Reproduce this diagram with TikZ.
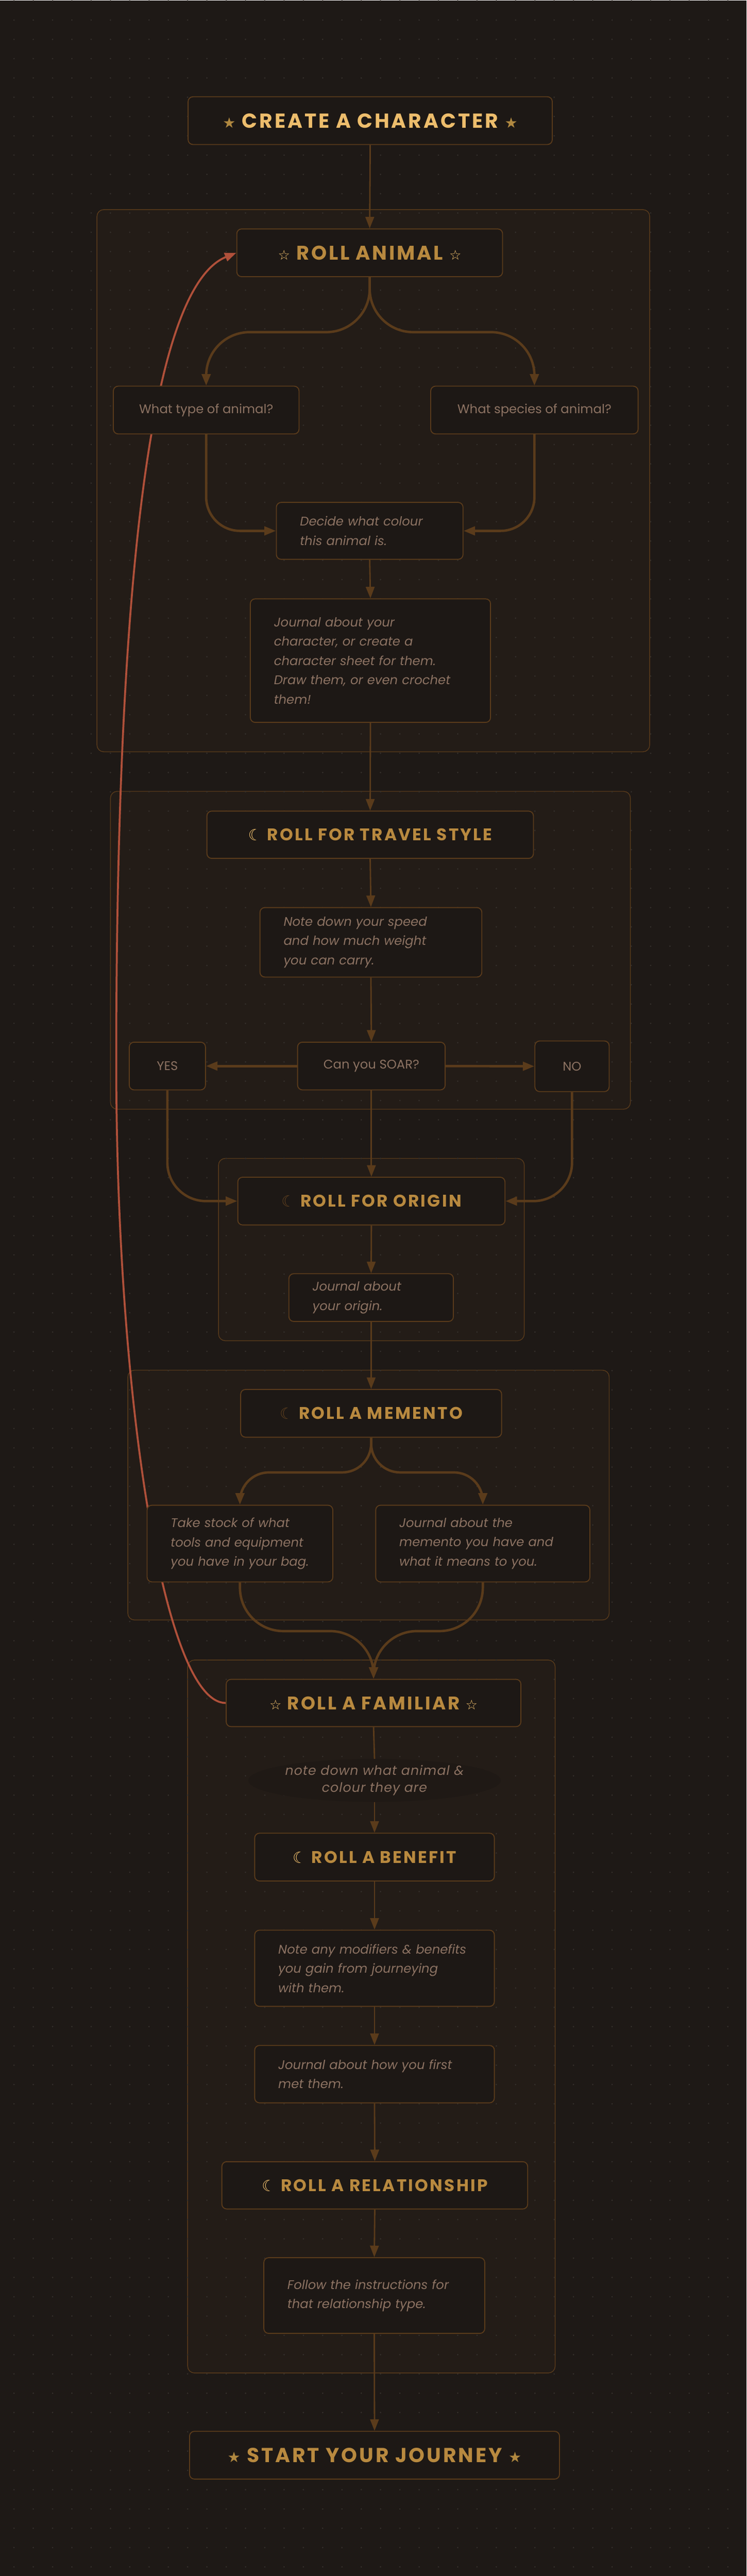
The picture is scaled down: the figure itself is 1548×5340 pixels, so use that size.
\documentclass[tikz,border=0pt]{standalone}
\usepackage{xcolor}
\usepackage{fontspec}
\setmainfont{Poppins}
\newfontfamily\headfont[LetterSpace=10]{Poppins}
\newfontfamily\softfont[LetterSpace=4]{Poppins}
\newfontfamily\symfont{DejaVu Sans}
\usepackage{tikz}
\usetikzlibrary{arrows.meta,shapes.geometric}
\pgfdeclarelayer{back}
\pgfsetlayers{back,main}

\definecolor{bgc}{HTML}{1E1916}
\definecolor{grpfill}{HTML}{231C17}
\definecolor{boxfill}{HTML}{1D1815}
\definecolor{ovalfill}{HTML}{1F1915}
\definecolor{edgec}{HTML}{5A3B1B}
\definecolor{dotc}{HTML}{36312D}
\definecolor{goldc}{HTML}{B8893F}
\definecolor{brightc}{HTML}{EDBD6C}
\definecolor{bodyc}{HTML}{8C7262}
\definecolor{redc}{HTML}{B0503A}
\definecolor{dimmoon}{HTML}{5C3E1E}
\definecolor{starc}{HTML}{B08840}

\newcommand{\fstar}{{\symfont\fontsize{30}{30}\selectfont\color{starc}★}}
\newcommand{\ostar}{{\symfont\fontsize{28}{28}\selectfont\color{brightc}☆}}
\newcommand{\bmoon}{{\symfont\fontsize{32}{32}\selectfont\color{brightc}☾}}
\newcommand{\dmoon}{{\symfont\fontsize{32}{32}\selectfont\color{dimmoon}☾}}

\begin{document}
\begin{tikzpicture}[x=1pt,y=-1pt,
    headbox/.style={draw=edgec,line width=2pt,fill=boxfill,rounded corners=10pt,inner sep=0pt,text=goldc,font=\headfont\bfseries\fontsize{35}{40}\selectfont},
    notebox/.style={draw=edgec,line width=2pt,fill=boxfill,rounded corners=10pt,text=bodyc,font=\itshape\fontsize{26}{40}\selectfont,align=left,inner xsep=49pt,inner ysep=0pt},
    askbox/.style={draw=edgec,line width=2pt,fill=boxfill,rounded corners=10pt,inner sep=0pt,text=bodyc,font=\fontsize{26}{30}\selectfont},
    grp/.style={draw=edgec,line width=1.5pt,fill=grpfill,rounded corners=14pt},
    flow/.style={draw=edgec,line width=3pt,-{Triangle[length=24pt,width=18pt]}},
    fork/.style={flow,line width=5pt,rounded corners=90pt},
    loopback/.style={draw=redc,line width=4pt,-{Triangle[length=24pt,width=18pt]}}]
    \begin{pgfonlayer}{back}
        \fill [bgc] (0,0) rectangle (1548,5340);
        \draw [grp] (201,434) rectangle (1347,1558);
        \draw [grp] (229,1640) rectangle (1307,2299);
        \draw [grp] (453,2401) rectangle (1087,2779);
        \draw [grp] (265,2840) rectangle (1263,3358);
        \draw [grp] (389,3441) rectangle (1151,4919);
        \foreach \i in {0,...,37}
            \foreach \j in {0,...,133}
                \fill [dotc] (29+40*\i,1+40*\j) circle (1.6);
    \end{pgfonlayer}
    \useasboundingbox (0,0) rectangle (1548,5340);

    \node [headbox,text=brightc,font=\headfont\bfseries\fontsize{42}{44}\selectfont,minimum width=755pt,minimum height=99pt] (create) at (767.5,249.5) {\fstar\ CREATE A CHARACTER\ \fstar};
    \node [headbox,font=\headfont\bfseries\fontsize{41}{44}\selectfont,minimum width=551pt,minimum height=99pt] (animal) at (766.5,523.5) {\ostar\ ROLL ANIMAL\ \ostar};
    \node [askbox,minimum width=385pt,minimum height=99pt] (type) at (427.5,849.5) {What type of animal?};
    \node [askbox,minimum width=430pt,minimum height=99pt] (species) at (1108,849.5) {What species of animal?};
    \node [notebox,text width=289pt,minimum height=118pt] (colour) at (766.5,1100) {Decide what colour\\this animal is.};
    \node [notebox,text width=400pt,minimum height=256pt] (journal) at (768,1369) {Journal about your\\character, or create a\\character sheet for them.\\Draw them, or even crochet\\them!};

    \node [headbox,minimum width=677pt,minimum height=98pt] (travel) at (767.5,1730) {\bmoon\ ROLL FOR TRAVEL STYLE};
    \node [notebox,text width=362pt,minimum height=144pt] (speed) at (769,1953) {Note down your speed\\and how much weight\\you can carry.};
    \node [askbox,minimum width=306pt,minimum height=99pt] (soar) at (770,2209.5) {Can you SOAR?};
    \node [askbox,minimum width=158pt,minimum height=99pt] (yes) at (347,2209.5) {YES};
    \node [askbox,minimum width=154pt,minimum height=105pt] (no) at (1186,2210) {NO};

    \node [headbox,minimum width=554pt,minimum height=99pt] (origin) at (770,2489.5) {\dmoon\ ROLL FOR ORIGIN};
    \node [notebox,text width=243pt,minimum height=99pt] (jorigin) at (769.5,2689.5) {Journal about\\your origin.};

    \node [headbox,minimum width=541pt,minimum height=99pt] (memento) at (769.5,2929.5) {\dmoon\ ROLL A MEMENTO};
    \node [notebox,text width=287pt,minimum height=159pt] (stock) at (497.5,3199.5) {Take stock of what\\tools and equipment\\you have in your bag.};
    \node [notebox,text width=346pt,minimum height=159pt] (jmemento) at (1001,3199.5) {Journal about the\\memento you have and\\what it means to you.};

    \node [headbox,font=\headfont\bfseries\fontsize{38}{44}\selectfont,minimum width=611pt,minimum height=98pt] (familiar) at (774.5,3530) {\ostar\ ROLL A FAMILIAR\ \ostar};
    \node [ellipse,fill=ovalfill,inner sep=0pt,minimum width=457pt,minimum height=89pt,text=bodyc,align=center,font=\softfont\itshape\fontsize{27}{35}\selectfont] (fnote) at (776.5,3690.5) {note down what animal \&\\colour they are};
    \node [headbox,minimum width=497pt,minimum height=99pt] (benefit) at (776.5,3849.5) {\bmoon\ ROLL A BENEFIT};
    \node [notebox,text width=399pt,minimum height=158pt] (modifiers) at (776.5,4080) {Note any modifiers \& benefits\\you gain from journeying\\with them.};
    \node [notebox,text width=399pt,minimum height=119pt] (firstmet) at (776.5,4299.5) {Journal about how you first\\met them.};
    \node [headbox,minimum width=634pt,minimum height=98pt] (relation) at (777,4530) {\bmoon\ ROLL A RELATIONSHIP};
    \node [notebox,text width=360pt,minimum height=157pt] (follow) at (776,4758.5) {Follow the instructions for\\that relationship type.};

    \node [headbox,font=\headfont\bfseries\fontsize{42}{44}\selectfont,minimum width=767pt,minimum height=99pt] (start) at (776.5,5089.5) {\fstar\ START YOUR JOURNEY\ \fstar};

    \draw [flow] (create.south) -- (animal.north);
    \draw [fork] (animal.south) -- ++(0,114) -| (type.north);
    \draw [fork] (animal.south) -- ++(0,114) -| (species.north);
    \draw [fork,rounded corners=70pt] (type.south) |- (colour.west);
    \draw [fork,rounded corners=70pt] (species.south) |- (colour.east);
    \draw [flow] (colour.south) -- (journal.north);
    \draw [flow] (journal.south) -- (travel.north);
    \draw [flow] (travel.south) -- (speed.north);
    \draw [flow] (speed.south) -- (soar.north);
    \draw [flow,line width=5pt] (soar.west) -- (yes.east);
    \draw [flow,line width=5pt] (soar.east) -- (no.west);
    \draw [fork,rounded corners=80pt] (yes.south) |- (origin.west);
    \draw [fork,rounded corners=80pt] (no.south) |- (origin.east);
    \draw [flow] (soar.south) -- (origin.north);
    \draw [flow] (origin.south) -- (jorigin.north);
    \draw [flow] (jorigin.south) -- (memento.north);
    \draw [fork,rounded corners=60pt] (memento.south) -- ++(0,72) -| (stock.north);
    \draw [fork,rounded corners=60pt] (memento.south) -- ++(0,72) -| (jmemento.north);
    \draw [fork] (stock.south) -- ++(0,101) -| (familiar.north);
    \draw [fork] (jmemento.south) -- ++(0,101) -| (familiar.north);
    \draw [edgec,line width=3pt] (familiar.south) -- (fnote.north);
    \draw [flow] (fnote.south) -- (benefit.north);
    \draw [flow] (benefit.south) -- (modifiers.north);
    \draw [flow] (modifiers.south) -- (firstmet.north);
    \draw [flow] (firstmet.south) -- (relation.north);
    \draw [flow] (relation.south) -- (follow.north);
    \draw [flow] (follow.south) -- (start.north);

    \coordinate (redturn) at (241,2200);
    \begin{pgfonlayer}{back}
        \draw [loopback] (familiar.west) .. controls (340,3530) and (241,2900) .. (redturn) .. controls (241,1300) and (300,600) .. (animal.west);
    \end{pgfonlayer}
\end{tikzpicture}
\end{document}
